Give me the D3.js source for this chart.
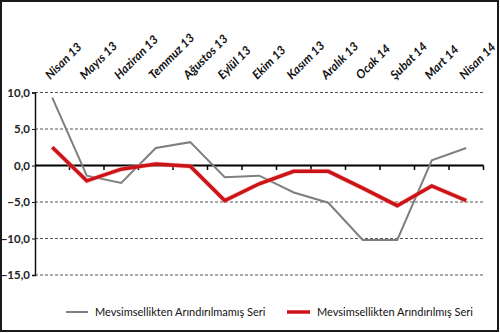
<!DOCTYPE html>
<html>
<head>
<meta charset="utf-8">
<script src="https://cdn.jsdelivr.net/npm/d3@7"></script>
<style>
  html, body { margin: 0; padding: 0; background: #fff; }
  svg { display: block; }
</style>
</head>
<body>
<svg id="chart" width="500" height="333"></svg>
<script>
// Monthly categories (April 2013 – April 2014)
const months = ["Nisan 13", "Mayıs 13", "Haziran 13", "Temmuz 13", "Ağustos 13", "Eylül 13",
                "Ekim 13", "Kasım 13", "Aralık 13", "Ocak 14", "Şubat 14", "Mart 14", "Nisan 14"];

// Series values (%)
const rawSeries = [9.3, -1.4, -2.4, 2.4, 3.2, -1.6, -1.4, -3.7, -5.1, -10.2, -10.2, 0.7, 2.4];
const adjustedSeries = [2.5, -2.1, -0.5, 0.2, -0.1, -4.8, -2.5, -0.8, -0.8, -3.1, -5.5, -2.8, -4.8];

const yTicks = [10, 5, 0, -5, -10, -15];
const seriesNames = ["Mevsimsellikten Arındırılmamış Seri", "Mevsimsellikten Arındırılmış Seri"];

const svg = d3.select("#chart");
const font = "Lato, 'Open Sans', sans-serif";

// outer frame
svg.append("rect")
  .attr("x", 1).attr("y", 1).attr("width", 497).attr("height", 330)
  .attr("fill", "#fff").attr("stroke", "#1a1a1a").attr("stroke-width", 2);

const x = d3.scaleBand().domain(months).range([35, 483.5]).padding(0);
const y = d3.scaleLinear().domain([-15, 10]).range([275, 92.5]);
const fmt = v => d3.format(".1f")(v).replace(".", ",");

// dashed horizontal gridlines
svg.append("g").selectAll("line")
  .data(yTicks.filter(v => v !== 0))
  .join("line")
  .attr("x1", 35).attr("x2", 483.5)
  .attr("y1", d => y(d)).attr("y2", d => y(d))
  .attr("stroke", "#555").attr("stroke-width", 1)
  .attr("stroke-dasharray", "3,2");

// y axis
const yAxis = d3.axisLeft(y).tickValues(yTicks).tickSize(3).tickFormat(fmt);
const yg = svg.append("g").attr("transform", "translate(35,0)").call(yAxis);
yg.select(".domain").attr("stroke", "#111").attr("stroke-width", 1.5);
yg.selectAll(".tick line").attr("stroke", "#111");
yg.selectAll(".tick text")
  .attr("x", -5)
  .attr("font-family", font).attr("font-size", 11.5).attr("font-weight", "bold")
  .attr("fill", "#222");

// zero line with category boundary ticks
svg.append("line")
  .attr("x1", 35).attr("x2", 483.5)
  .attr("y1", y(0)).attr("y2", y(0))
  .attr("stroke", "#000").attr("stroke-width", 2);
const bounds = months.map(m => x(m) + x.bandwidth());
svg.append("g").selectAll("line")
  .data(bounds)
  .join("line")
  .attr("x1", d => d).attr("x2", d => d)
  .attr("y1", y(0)).attr("y2", y(0) + 4.5)
  .attr("stroke", "#000").attr("stroke-width", 1.5);

// rotated month labels above the plot
svg.append("g").selectAll("text")
  .data(months)
  .join("text")
  .attr("transform", d => `translate(${x(d) + x.bandwidth() / 2 - 2},80) rotate(-45)`)
  .attr("text-anchor", "start")
  .attr("font-family", font).attr("font-size", 12)
  .attr("font-weight", "bold").attr("font-style", "italic")
  .attr("fill", "#111")
  .text(d => d);

const line = d3.line()
  .x((d, i) => x(months[i]) + x.bandwidth() / 2)
  .y(d => y(d));

svg.append("path")
  .datum(rawSeries)
  .attr("d", line)
  .attr("fill", "none").attr("stroke", "#7f7f7f").attr("stroke-width", 2)
  .attr("stroke-linejoin", "miter");

svg.append("path")
  .datum(adjustedSeries)
  .attr("d", line)
  .attr("fill", "none").attr("stroke", "#f2a0a0").attr("stroke-width", 5)
  .attr("stroke-opacity", 0.5);
svg.append("path")
  .datum(adjustedSeries)
  .attr("d", line)
  .attr("fill", "none").attr("stroke", "#cc1418").attr("stroke-width", 3.5);

// legend
const legend = [
  { name: seriesNames[0], color: "#7f7f7f", width: 2, x1: 66, x2: 88, tx: 95 },
  { name: seriesNames[1], color: "#cc1418", width: 3.5, x1: 287, x2: 310, tx: 317 }
];
const lg = svg.append("g").selectAll("g").data(legend).join("g");
lg.append("line")
  .attr("x1", d => d.x1).attr("x2", d => d.x2)
  .attr("y1", 312).attr("y2", 312)
  .attr("stroke", d => d.color).attr("stroke-width", d => d.width);
lg.append("text")
  .attr("x", d => d.tx).attr("y", 316)
  .attr("font-family", font).attr("font-size", 11)
  .attr("fill", "#111")
  .text(d => d.name);
</script>
</body>
</html>
